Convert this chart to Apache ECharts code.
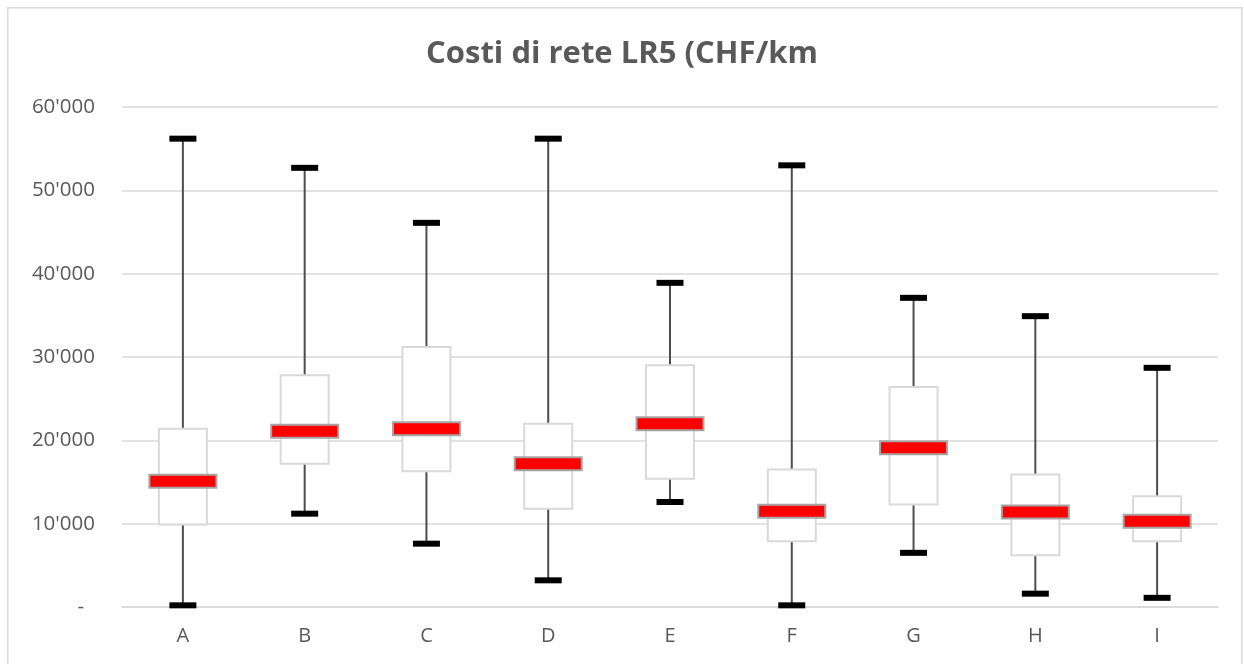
<!DOCTYPE html>
<html>
<head>
<meta charset="utf-8">
<script src="https://cdn.jsdelivr.net/npm/echarts@6/dist/echarts.min.js"></script>
<style>
html,body{margin:0;padding:0;background:#fff;}
#chart{width:1244px;height:664px;}
</style>
</head>
<body>
<div id="chart"></div>
<script>
const titleText = "Costi di rete LR5 (CHF/km";
const categories = ["A","B","C","D","E","F","G","H","I"];
const mins    = [200, 11200, 7600, 3200, 12600, 200, 6500, 1600, 1100];
const q1s     = [9900, 17200, 16300, 11800, 15400, 7900, 12300, 6200, 7900];
const medians = [15100, 21100, 21400, 17200, 22000, 11500, 19100, 11400, 10300];
const q3s     = [21400, 27800, 31200, 22000, 29000, 16500, 26400, 15900, 13300];
const maxs    = [56200, 52700, 46100, 56200, 38900, 53000, 37100, 34900, 28700];
const yTicks  = {min: 0, max: 60000, interval: 10000};

const FONT = "'Open Sans', sans-serif";
const data = categories.map((c, i) => [i, mins[i], q1s[i], medians[i], q3s[i], maxs[i]]);

function fmt(v) {
  if (v === 0) return '{z|-}';
  return String(v).replace(/\B(?=(\d{3})+(?!\d))/g, "'");
}

const chart = echarts.init(document.getElementById('chart'), null, {renderer: 'canvas'});
chart.setOption({
  animation: false,
  backgroundColor: '#ffffff',
  graphic: [{
    type: 'rect', left: 7, top: 7, z: -10, silent: true,
    shape: {width: 1234, height: 670},
    style: {fill: '#ffffff', stroke: '#d9d9d9', lineWidth: 1.5}
  }],
  title: {
    text: titleText, left: 'center', top: 34,
    textStyle: {fontFamily: FONT, fontWeight: 'bold', fontSize: 31, color: '#595959'}
  },
  grid: {left: 122, right: 26, top: 107, bottom: 57, containLabel: false},
  xAxis: {
    type: 'category', data: categories,
    axisLine: {show: true, lineStyle: {color: '#d9d9d9', width: 1.5}},
    axisTick: {show: false},
    axisLabel: {fontFamily: FONT, fontSize: 20, color: '#595959', margin: 19}
  },
  yAxis: {
    type: 'value', min: yTicks.min, max: yTicks.max, interval: yTicks.interval,
    axisLine: {show: false}, axisTick: {show: false},
    splitLine: {lineStyle: {color: '#d9d9d9', width: 1.5}},
    axisLabel: {
      fontFamily: FONT, fontSize: 20.5, color: '#595959', margin: 27,
      formatter: fmt,
      rich: {z: {fontFamily: FONT, fontSize: 20.5, color: '#595959', padding: [0, 11, 0, 0]}}
    }
  },
  series: [{
    type: 'custom',
    data: data,
    encode: {x: 0, y: [1, 2, 3, 4, 5]},
    renderItem: function (params, api) {
      const i = api.value(0);
      const pMin = api.coord([i, api.value(1)]);
      const pQ1 = api.coord([i, api.value(2)]);
      const pMed = api.coord([i, api.value(3)]);
      const pQ3 = api.coord([i, api.value(4)]);
      const pMax = api.coord([i, api.value(5)]);
      const x = pMed[0];
      const boxW = 48, capW = 27, capH = 6, medW = 67, medH = 13;
      return {
        type: 'group',
        children: [
          {type: 'line', shape: {x1: x, y1: pMax[1], x2: x, y2: pMin[1]},
           style: {stroke: '#4d4d4d', lineWidth: 2}},
          {type: 'rect', shape: {x: x - capW / 2, y: pMax[1] - capH / 2, width: capW, height: capH},
           style: {fill: '#000000'}},
          {type: 'rect', shape: {x: x - capW / 2, y: pMin[1] - capH / 2, width: capW, height: capH},
           style: {fill: '#000000'}},
          {type: 'rect', shape: {x: x - boxW / 2, y: pQ3[1], width: boxW, height: pQ1[1] - pQ3[1]},
           style: {fill: '#ffffff', stroke: '#d9d9d9', lineWidth: 2}},
          {type: 'rect', shape: {x: x - medW / 2, y: pMed[1] - medH / 2, width: medW, height: medH},
           style: {fill: '#ff0000', stroke: '#a6a6a6', lineWidth: 2}}
        ]
      };
    }
  }]
});
</script>
</body>
</html>
